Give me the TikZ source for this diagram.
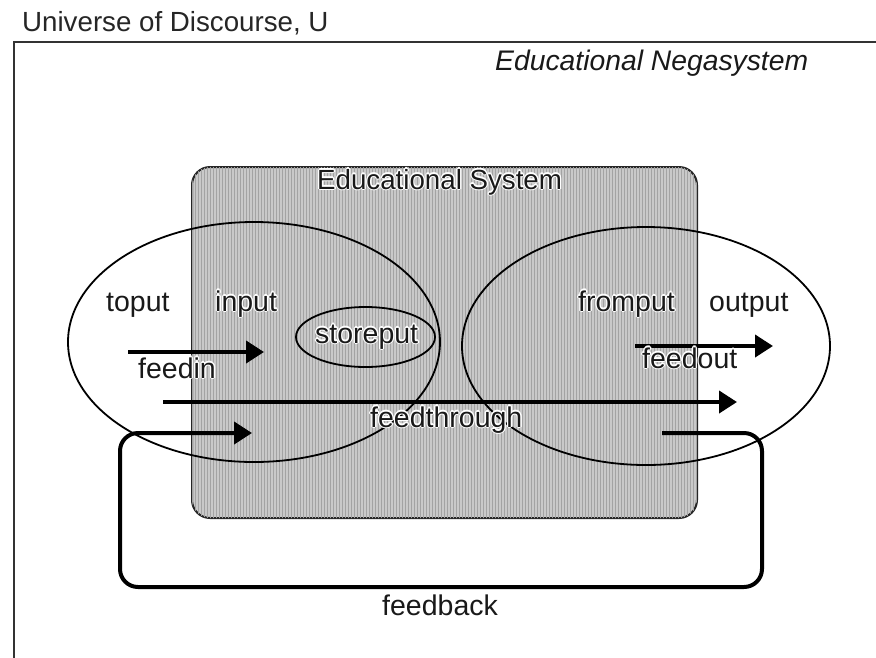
\documentclass[tikz,border=0pt]{standalone}
\usepackage{fontspec}
\setmainfont{Liberation Sans}
\usetikzlibrary{arrows.meta,shapes.geometric,patterns}
% text with a thin white outline, used for labels set over the shaded box
\newcommand\halotext[1]{%
  \rlap{\color{white}\hspace{-1.3pt}#1}%
  \rlap{\color{white}\hspace{1.3pt}#1}%
  \rlap{\color{white}\raisebox{1.3pt}{#1}}%
  \rlap{\color{white}\raisebox{-1.3pt}{#1}}%
  \rlap{\color{white}\hspace{-0.9pt}\raisebox{0.9pt}{#1}}%
  \rlap{\color{white}\hspace{0.9pt}\raisebox{0.9pt}{#1}}%
  \rlap{\color{white}\hspace{-0.9pt}\raisebox{-0.9pt}{#1}}%
  \rlap{\color{white}\hspace{0.9pt}\raisebox{-0.9pt}{#1}}%
  #1}
\begin{document}
\begin{tikzpicture}[x=1pt,y=-1pt,
  lbl/.style={inner sep=0pt,anchor=base west,font=\fontsize{28.5}{30}\selectfont,text=black!90},
  flow/.style={line width=4pt,-{Triangle[length=18pt,width=22pt]}},
  ring/.style={draw,ellipse,line width=1.8pt,inner sep=0pt},
  sysbox/.style={draw=black!85,line width=2pt,rounded corners=18pt,inner sep=0pt,
    fill=black!21,postaction={pattern=vertical lines,pattern color=black!36}},
  loopline/.style={line width=4pt,rounded corners=18pt}]
\useasboundingbox (0,0) rectangle (876,657);
\clip (0,0) rectangle (876,657);
\fill[white] (0,0) rectangle (876,657);

% universe of discourse frame (runs off the page on the right and bottom)
\coordinate (u-tr) at (890,42);
\coordinate (u-tl) at (14,42);
\coordinate (u-bl) at (14,670);
\draw[line width=2.5pt,black!80] (u-tr) -- (u-tl) -- (u-bl);
\node[lbl,font=\fontsize{27.7}{30}\selectfont,text=black!85] (title) at (22,31) {Universe of Discourse, U};
\node[lbl,font=\fontsize{28.3}{30}\selectfont\itshape] (nega) at (495,70) {Educational Negasystem};

% the educational system
\node[sysbox,minimum width=505pt,minimum height=351pt] (sys) at (444.5,342.5) {};
\node[lbl,font=\fontsize{27.7}{30}\selectfont] (systitle) at (317,189) {\halotext{Educational System}};

% input and output regions
\node[ring,minimum width=372pt,minimum height=240pt] (inreg) at (254,342) {};
\node[ring,minimum width=368pt,minimum height=238pt] (outreg) at (646,346) {};
\node[ring,minimum width=139pt,minimum height=60pt] (store) at (365.5,337) {};

% flows
\coordinate (fin-s) at (128,352);
\coordinate (fin-e) at (264,352);
\coordinate (fout-s) at (635,346);
\coordinate (fout-e) at (773,346);
\coordinate (fth-s) at (163,402);
\coordinate (fth-e) at (737,402);
\draw[flow] (fin-s) -- (fin-e);
\draw[flow] (fout-s) -- (fout-e);
\draw[flow] (fth-s) -- (fth-e);

% feedback loop
\coordinate (fb-s) at (662,433);
\coordinate (fb-tr) at (762,433);
\coordinate (fb-br) at (762,587);
\coordinate (fb-bl) at (120,587);
\coordinate (fb-tl) at (120,433);
\coordinate (fb-e) at (252,433);
\draw[loopline,flow] (fb-s) -- (fb-tr) -- (fb-br) -- (fb-bl) -- (fb-tl) -- (fb-e);

% labels
\node[lbl] (toput) at (106,311) {toput};
\node[lbl] (input) at (215,311) {\halotext{input}};
\node[lbl] (storeput) at (315,343) {\halotext{storeput}};
\node[lbl] (fromput) at (578,311) {\halotext{fromput}};
\node[lbl] (output) at (709,311) {output};
\node[lbl] (feedin) at (138,378) {\halotext{feedin}};
\node[lbl] (feedout) at (642,368) {\halotext{feedout}};
\node[lbl] (feedthrough) at (370,427) {\halotext{feedthrough}};
\node[lbl] (feedback) at (382,615) {feedback};
\end{tikzpicture}
\end{document}
